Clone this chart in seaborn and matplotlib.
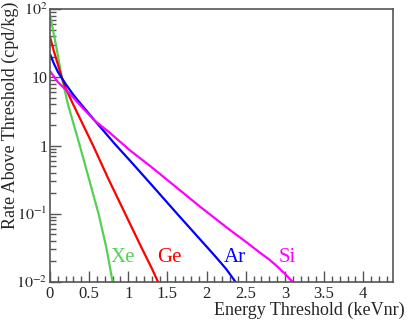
import numpy as np
import pandas as pd
import matplotlib
matplotlib.use('Agg')
import matplotlib.pyplot as plt
import seaborn as sns
from matplotlib.ticker import MultipleLocator, FixedLocator, FixedFormatter, LogLocator, NullFormatter

# ========== DATA (log10 of rate) ==========
xe_x = [0.0, 0.08, 0.15, 0.23, 0.38, 0.5, 0.62, 0.72, 0.80]
xe_log = [1.91, 1.45, 1.0, 0.6, 0.0, -0.5, -1.0, -1.5, -2.0]

ge_x = [0.0, 0.05, 0.1, 0.15, 0.2, 0.28, 0.36, 0.55, 0.75, 0.96, 1.17, 1.3, 1.38]
ge_log = [1.59, 1.38, 1.19, 1.0, 0.84, 0.64, 0.45, 0.0, -0.5, -1.0, -1.5, -1.8, -2.0]

ar_x = [0.0, 0.05, 0.1, 0.2, 0.3, 0.4, 0.575, 0.83, 1.02, 1.3, 1.6, 1.92, 2.1, 2.25, 2.37]
ar_log = [1.34, 1.2, 1.08, 0.9, 0.74, 0.6, 0.36, 0.02, -0.22, -0.58, -0.97, -1.38, -1.61, -1.81, -2.0]

si_x = [0.0, 0.1, 0.2, 0.3, 0.4, 0.575, 0.75, 0.92, 1.02, 1.3, 1.6, 1.92, 2.3, 2.5, 2.68, 2.8, 2.9, 3.0, 3.1]
si_log = [1.09, 0.93, 0.82, 0.7, 0.57, 0.36, 0.2, 0.03, -0.07, -0.32, -0.6, -0.9, -1.24, -1.41, -1.57, -1.67, -1.77, -1.88, -2.0]

targets = ['Xe', 'Ge', 'Ar', 'Si']
colors = ['#55d055', '#ff0000', '#0000ff', '#ff00ff']
label_x = [0.93, 1.52, 2.36, 3.03]
label_y = 0.0225

yticks = [1e-2, 1e-1, 1, 10, 1e2]
ytick_labels = ['$10^{-2}$', '$10^{-1}$', '1', '10', '$10^{2}$']

# ========== PLOT ==========
sns.set_style('ticks')
plt.rcParams['font.family'] = ['Liberation Serif', 'DejaVu Serif']
plt.rcParams['mathtext.fontset'] = 'stix'

series = {'Xe': (xe_x, xe_log), 'Ge': (ge_x, ge_log), 'Ar': (ar_x, ar_log), 'Si': (si_x, si_log)}
frames = []
for name in targets:
    xs, ls = series[name]
    frames.append(pd.DataFrame({'E': xs, 'rate': 10 ** np.array(ls), 'target': name}))
df = pd.concat(frames, ignore_index=True)

fig = plt.figure(figsize=(4.07, 3.27), dpi=100)
ax = fig.add_axes([50 / 407, 1 - 282 / 327, 343 / 407, 273 / 327])

sns.lineplot(data=df, x='E', y='rate', hue='target', hue_order=targets,
             palette=colors, linewidth=1.6, legend=False, ax=ax, sort=False)

ax.set_yscale('log')
ax.set_xlim(0, 4.38)
ax.set_ylim(1e-2, 1e2)

for name, c, lx in zip(targets, colors, label_x):
    ax.text(lx, label_y, name, color=c, fontsize=15, ha='center', va='center')

ax.xaxis.set_minor_locator(MultipleLocator(0.1))
ax.set_xticks([0, 0.5, 1, 1.5, 2, 2.5, 3, 3.5, 4])
ax.set_xticklabels(['0', '0.5', '1', '1.5', '2', '2.5', '3', '3.5', '4'])
ax.yaxis.set_major_locator(FixedLocator(yticks))
ax.yaxis.set_major_formatter(FixedFormatter(ytick_labels))
ax.yaxis.set_minor_locator(LogLocator(base=10, subs=np.arange(2, 10)))
ax.yaxis.set_minor_formatter(NullFormatter())

frame_col = '#555555'
for sp in ax.spines.values():
    sp.set_color(frame_col)
    sp.set_linewidth(1.2)
ax.tick_params(which='both', direction='in', color=frame_col)
ax.tick_params(axis='x', labelsize=12, pad=3)
ax.tick_params(axis='y', labelsize=11.5, pad=2)
ax.tick_params(which='major', length=8, width=1)
ax.tick_params(which='minor', length=4, width=1)
ax.set_xlabel('')
ax.set_ylabel('')

# axis titles placed like ROOT: right / top aligned
fig.text(405 / 407, 1 - 310 / 327, 'Energy Threshold (keVnr)', fontsize=13,
         ha='right', va='center')
fig.text(10.5 / 407, 1 - 2 / 327, 'Rate Above Threshold (cpd/kg)', fontsize=13,
         rotation=90, ha='center', va='top')

fig.savefig('out.png', dpi=100)
